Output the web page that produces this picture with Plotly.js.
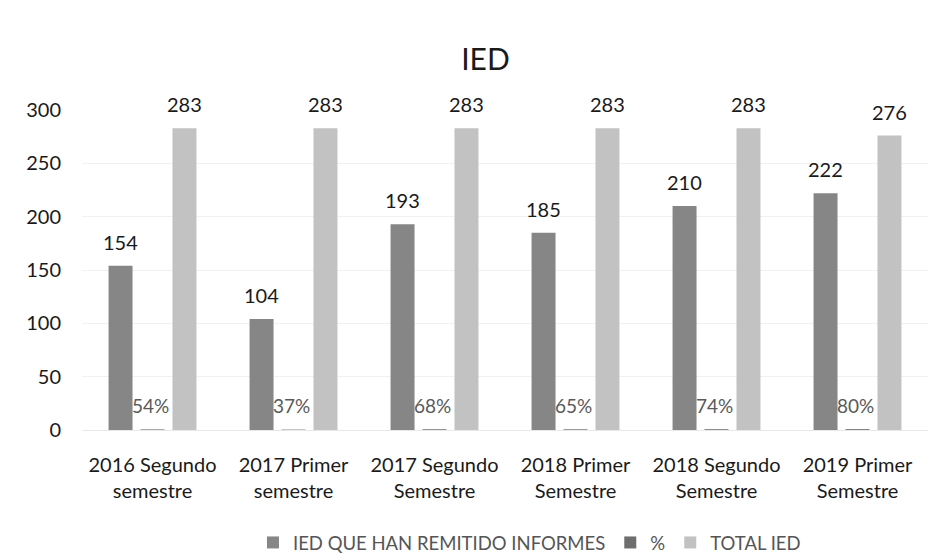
<!DOCTYPE html>
<html>
<head>
<meta charset="utf-8">
<script src="https://cdn.plot.ly/plotly-3.0.1.min.js"></script>
<style>
html,body{margin:0;padding:0;background:#fff;}
#chart{width:930px;height:554px;}
</style>
</head>
<body>
<div id="chart"></div>
<script>
const categories = [
  "2016 Segundo<br>semestre",
  "2017 Primer<br>semestre",
  "2017 Segundo<br>Semestre",
  "2018 Primer<br>Semestre",
  "2018 Segundo<br>Semestre",
  "2019 Primer<br>Semestre"
];
const remitidos = [154, 104, 193, 185, 210, 222];
const porcentaje = [0.54, 0.37, 0.68, 0.65, 0.74, 0.80];
const totalIED = [283, 283, 283, 283, 283, 276];
const yTicks = [0, 50, 100, 150, 200, 250, 300];

const FONT = "Lato, 'Open Sans', sans-serif";
const BARGAP = 0.32;
const NSERIES = 3;
const slot = (1 - BARGAP) / NSERIES;   // width of one bar slot in category units

const traces = [
  {
    type: "bar", name: "IED QUE HAN REMITIDO INFORMES",
    x: categories, y: remitidos,
    marker: {color: "#868686"}, hoverinfo: "x+y"
  },
  {
    type: "bar", name: "%",
    x: categories, y: porcentaje,
    marker: {color: "#6e6e6e"}, hoverinfo: "x+y"
  },
  {
    type: "bar", name: "TOTAL IED",
    x: categories, y: totalIED,
    marker: {color: "#c2c2c2"}, hoverinfo: "x+y"
  }
];

const valueFont = {family: FONT, size: 20, color: "#1a1a1a"};
const annotations = [];
categories.forEach((c, i) => {
  annotations.push({
    x: i - slot, y: remitidos[i], xref: "x", yref: "y",
    text: String(remitidos[i]), showarrow: false,
    yanchor: "middle", yshift: 24, font: valueFont
  });
  annotations.push({
    x: i + slot, y: totalIED[i], xref: "x", yref: "y",
    text: String(totalIED[i]), showarrow: false,
    yanchor: "middle", yshift: 24, font: valueFont
  });
  annotations.push({
    x: i, y: porcentaje[i], xref: "x", yref: "y",
    text: Math.round(porcentaje[i] * 100) + "%", showarrow: false,
    yanchor: "middle", yshift: 24, xshift: -2,
    font: {family: FONT, size: 19, color: "#5a5a5a"}
  });
});

const layout = {
  width: 930, height: 554,
  margin: {l: 82, r: 2, t: 110, b: 124},
  paper_bgcolor: "#ffffff", plot_bgcolor: "#ffffff",
  title: {
    text: "IED", x: 0.522, xanchor: "center", y: 0.893, yanchor: "middle",
    font: {family: FONT, size: 30, color: "#1a1a1a"}
  },
  barmode: "group", bargap: BARGAP, bargroupgap: 0.25,
  xaxis: {
    type: "category", showgrid: false, zeroline: false, showline: false,
    ticks: "", tickfont: {family: FONT, size: 20, color: "#1a1a1a"},
    ticklabelstandoff: 21, automargin: false
  },
  yaxis: {
    range: [0, 300], tickvals: yTicks, ticktext: yTicks.map(String),
    showgrid: true, gridcolor: "#f1f1f1", gridwidth: 1,
    zeroline: true, zerolinecolor: "#e8e8e8", showline: false, ticks: "",
    tickfont: {family: FONT, size: 20, color: "#1a1a1a"},
    ticklabelstandoff: 20, automargin: false
  },
  showlegend: true,
  legend: {
    orientation: "h", xref: "container", x: 0.272, xanchor: "left",
    yref: "container", y: 0.02, yanchor: "middle",
    font: {family: FONT, size: 18.5, color: "#555555"},
    itemwidth: 30, traceorder: "normal"
  },
  annotations: annotations
};

Plotly.newPlot("chart", traces, layout, {displayModeBar: false, staticPlot: true});
</script>
</body>
</html>
